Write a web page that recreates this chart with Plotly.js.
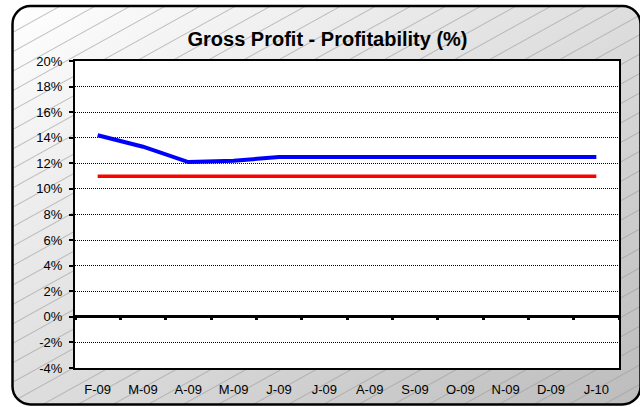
<!DOCTYPE html>
<html><head><meta charset="utf-8">
<script src="https://cdn.plot.ly/plotly-3.0.1.min.js"></script>
<style>
html,body{margin:0;padding:0;background:#fff;}
#wrap{position:relative;width:640px;height:407px;overflow:hidden;}
#bg{position:absolute;left:0;top:0;}
#chart{position:absolute;left:0;top:0;width:640px;height:407px;}
</style>
</head><body>
<div id="wrap">
<svg id="bg" width="640" height="407" xmlns="http://www.w3.org/2000/svg">
  <defs>
    <linearGradient id="g" x1="0" y1="0" x2="1" y2="1">
      <stop offset="0" stop-color="#ffffff"/>
      <stop offset="1" stop-color="#bcbcbc"/>
    </linearGradient>
    <pattern id="h" width="60" height="17" patternUnits="userSpaceOnUse" patternTransform="rotate(-29)">
      <line x1="0" y1="0.5" x2="60" y2="0.5" stroke="#9a9a9a" stroke-width="0.6"/>
    </pattern>
  </defs>
  <rect x="12.5" y="6" width="628" height="398.5" rx="18" ry="18" fill="url(#g)"/>
  <rect x="12.5" y="6" width="628" height="398.5" rx="18" ry="18" fill="url(#h)"/>
  <rect x="12.5" y="6" width="628" height="398.5" rx="18" ry="18" fill="none" stroke="#000" stroke-width="2.5"/>
</svg>
<div id="chart"></div>
</div>
<script>
const categories = ['F-09','M-09','A-09','M-09','J-09','J-09','A-09','S-09','O-09','N-09','D-09','J-10'];
const profitability = [14.2, 13.3, 12.1, 12.2, 12.5, 12.5, 12.5, 12.5, 12.5, 12.5, 12.5, 12.5];
const target = [11, 11, 11, 11, 11, 11, 11, 11, 11, 11, 11, 11];
const yTicks = [-4, -2, 0, 2, 4, 6, 8, 10, 12, 14, 16, 18, 20];

const idx = categories.map((c, i) => i);
const boundaries = categories.map((c, i) => i - 0.5).concat([categories.length - 0.5]);
const xRange = [-0.5, categories.length - 0.5];
const yRange = [yTicks[0], yTicks[yTicks.length - 1]];
const font = 'Liberation Sans, Arial, sans-serif';
const plotH = 407 - 61 - 39;

const traces = [
  {x: idx, y: target, type: 'scatter', mode: 'lines', line: {color: '#ff0000', width: 3.5}, hoverinfo: 'skip', name: 'Target'},
  {x: idx, y: profitability, type: 'scatter', mode: 'lines', line: {color: '#0000ff', width: 4}, hoverinfo: 'skip', name: 'Profitability'},
  // invisible helper so the category-boundary ticks on the 0% line are drawn
  {x: boundaries, y: boundaries.map(() => 0), xaxis: 'x2', yaxis: 'y', type: 'scatter', mode: 'markers',
   marker: {size: 1, opacity: 0}, hoverinfo: 'skip', showlegend: false}
];

const layout = {
  width: 640, height: 407,
  margin: {l: 75, r: 21, t: 61, b: 39},
  paper_bgcolor: 'rgba(0,0,0,0)',
  plot_bgcolor: '#ffffff',
  showlegend: false,
  title: {
    text: 'Gross Profit - Profitability (%)',
    font: {family: font, size: 20, color: '#000', weight: 'bold'},
    xref: 'container', x: 327.5 / 640, xanchor: 'center',
    yref: 'container', y: 1 - 39 / 407, yanchor: 'middle'
  },
  xaxis: {
    range: xRange, tickmode: 'array', tickvals: idx, ticktext: categories,
    showgrid: false, zeroline: false, ticks: '',
    showline: true, linecolor: '#000', linewidth: 2, mirror: true,
    tickfont: {family: font, size: 13, color: '#000'},
    ticklabelstandoff: 8, fixedrange: true
  },
  xaxis2: {
    overlaying: 'x', anchor: 'free',
    position: (0 - yRange[0]) / (yRange[1] - yRange[0]) + 2.5 / plotH,
    range: xRange, side: 'bottom',
    tickmode: 'array', tickvals: boundaries, ticks: 'outside', ticklen: 5, tickwidth: 3, tickcolor: '#000',
    showticklabels: false, showgrid: false, zeroline: false,
    showline: false, fixedrange: true
  },
  yaxis: {
    range: yRange, tickmode: 'array', tickvals: yTicks, ticktext: yTicks.map(v => v + '%'),
    ticks: 'outside', ticklen: 4, tickwidth: 2, tickcolor: '#000',
    showgrid: true, gridcolor: '#000', gridwidth: 1, griddash: '1px,1px',
    zeroline: true, zerolinecolor: '#000', zerolinewidth: 3,
    showline: true, linecolor: '#000', linewidth: 2, mirror: true,
    tickfont: {family: font, size: 13, color: '#000'},
    ticklabelstandoff: 4, fixedrange: true
  }
};

Plotly.newPlot('chart', traces, layout, {staticPlot: true, displayModeBar: false});
</script>
</body></html>
